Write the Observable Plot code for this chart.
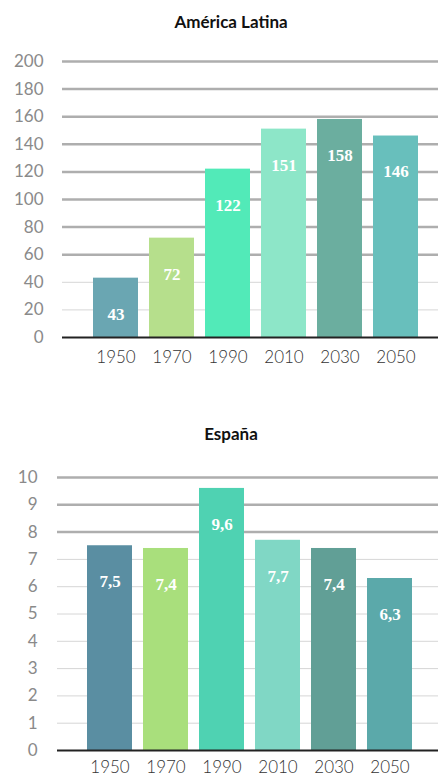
<!DOCTYPE html>
<html><head><meta charset="utf-8">
<script src="https://cdn.jsdelivr.net/npm/d3@7"></script>
<script src="https://cdn.jsdelivr.net/npm/@observablehq/plot@0.6"></script>
<style>
body{margin:0;background:#fff;font-family:Lato,"Open Sans",sans-serif;width:438px;overflow:hidden;}
.title{font-weight:bold;font-size:17px;text-align:center;color:#111;height:44px;line-height:44px;padding-left:24px;box-sizing:border-box;}
svg{display:block;}
</style></head><body>
<div id="root"></div>
<script>
const years = ["1950", "1970", "1990", "2010", "2030", "2050"];
const latamValues = [43, 72, 122, 151, 158, 146];
const spainValues = [7.5, 7.4, 9.6, 7.7, 7.4, 6.3];
const latamTicks = [0, 20, 40, 60, 80, 100, 120, 140, 160, 180, 200];
const spainTicks = [0, 1, 2, 3, 4, 5, 6, 7, 8, 9, 10];
const latamColors = ["#6aa6b2", "#b6df8c", "#52eab8", "#8de6c8", "#6bae9f", "#68bfbc"];
const spainColors = ["#5a8ea2", "#a9df7c", "#4fd2b2", "#80d7c5", "#619f96", "#5ba9aa"];

function chart({values, ticks, colors, height, marginTop, marginBottom, marginLeft, insetLeft, insetRight, thickFrom, fmt, tickPadding, xPad}) {
  const data = years.map((y, i) => ({year: y, value: values[i]}));
  const maxT = ticks[ticks.length - 1];
  return Plot.plot({
    width: 438,
    height,
    marginTop, marginBottom, marginLeft, marginRight: 0,
    style: {fontFamily: "Lato, 'Open Sans', sans-serif", background: "#fff"},
    x: {domain: years, padding: 0.2, insetLeft, insetRight, label: null},
    y: {domain: [0, maxT], label: null},
    color: {domain: years, range: colors},
    marks: [
      Plot.ruleY(ticks.filter(t => t >= thickFrom && t > 0), {stroke: "#aeaeae", strokeWidth: 2.5}),
      Plot.ruleY(ticks.filter(t => t < thickFrom && t > 0), {stroke: "#d6d6d6", strokeWidth: 1}),
      Plot.barY(data, {x: "year", y: "value", fill: "year"}),
      Plot.ruleY([0], {stroke: "#222", strokeWidth: 2}),
      Plot.text(data, {x: "year", y: "value", text: d => fmt(d.value), dy: 36, fill: "#fff",
        fontFamily: "'Liberation Serif', serif", fontWeight: "bold", fontSize: 17}),
      Plot.axisY({ticks, tickSize: 0, tickPadding, fontSize: 17, fill: "#8a8a8a", tickFormat: d => String(d),
        style: "letter-spacing:1px"}),
      Plot.axisX({tickSize: 0, tickPadding: xPad, fontSize: 17, fill: "#333", fontWeight: 300,
        style: "letter-spacing:1.5px"})
    ]
  });
}

const root = document.getElementById("root");
const t1 = document.createElement("div"); t1.className = "title"; t1.textContent = "América Latina";
root.appendChild(t1);
root.appendChild(chart({values: latamValues, ticks: latamTicks, colors: latamColors,
  height: 330, marginTop: 17, marginBottom: 37, marginLeft: 62, insetLeft: 19, insetRight: 9,
  thickFrom: 60, fmt: d => String(d), tickPadding: 19, xPad: 13}));
const sp = document.createElement("div"); sp.style.height = "38px"; root.appendChild(sp);
const t2 = document.createElement("div"); t2.className = "title"; t2.textContent = "España";
root.appendChild(t2);
root.appendChild(chart({values: spainValues, ticks: spainTicks, colors: spainColors,
  height: 322, marginTop: 21, marginBottom: 28, marginLeft: 57, insetLeft: 16, insetRight: 13,
  thickFrom: 8, fmt: d => d.toFixed(1).replace(".", ","), tickPadding: 20, xPad: 10}));
</script>
</body></html>
